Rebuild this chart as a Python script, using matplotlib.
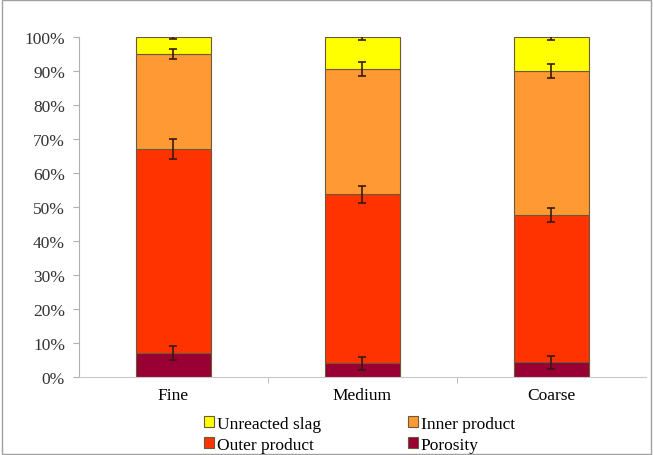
import matplotlib.pyplot as plt
import numpy as np
from matplotlib.patches import Rectangle
from matplotlib.ticker import PercentFormatter

plt.rcParams["font.family"] = ["Liberation Serif", "DejaVu Serif"]

categories = ["Fine", "Medium", "Coarse"]
series = ["Porosity", "Outer product", "Inner product", "Unreacted slag"]
porosity = [7.0, 4.0, 4.3]
outer = [60.0, 49.7, 43.4]
inner = [28.0, 36.8, 42.3]
slag = [5.0, 9.5, 10.0]
err_porosity = [2.0, 2.0, 2.0]
err_outer = [3.0, 2.5, 2.0]
err_inner = [1.5, 2.0, 2.0]
err_slag = [0.5, 1.0, 1.0]

colors = {
    "Porosity": "#990033",
    "Outer product": "#FF3300",
    "Inner product": "#FF9933",
    "Unreacted slag": "#FFFF00",
}

values = [porosity, outer, inner, slag]
errors = [err_porosity, err_outer, err_inner, err_slag]

fig = plt.figure(figsize=(6.53, 4.56), dpi=100)
ax = fig.add_axes([0.121, 0.171, 0.868, 0.746])

x = np.arange(len(categories))
bottom = np.zeros(len(categories))
handles = {}
for name, vals, errs in zip(series, values, errors):
    vals = np.array(vals)
    h = ax.bar(x, vals, width=0.4, bottom=bottom, color=colors[name],
               edgecolor="#6b5a3a", linewidth=0.8, label=name, zorder=2)
    handles[name] = h
    bottom = bottom + vals
    ax.errorbar(x, bottom, yerr=errs, fmt="none", ecolor="#3a1a10",
                elinewidth=1.2, capsize=3, capthick=1.2, zorder=3)

ax.set_xlim(-0.5, len(categories) - 0.5)
ax.set_ylim(0, 100)
ax.set_yticks(np.arange(0, 101, 10))
ax.yaxis.set_major_formatter(PercentFormatter(decimals=0))
ax.set_xticks(x)
ax.set_xticklabels(categories)
ax.set_xticks([0.5, 1.5], minor=True)
ax.tick_params(axis="x", which="major", length=0, pad=7)
ax.tick_params(axis="x", which="minor", length=4, color="#b0b0b0")
ax.tick_params(axis="y", length=4, color="#b0b0b0", labelcolor="#333333", pad=6)
ax.tick_params(labelsize=12.5)
for side in ["top", "right"]:
    ax.spines[side].set_visible(False)
ax.spines["left"].set_color("#b0b0b0")
ax.spines["bottom"].set_color("#c8c8c8")

# legend fills column by column: slag/outer, then inner/porosity
order = ["Unreacted slag", "Outer product", "Inner product", "Porosity"]
fig.legend([handles[n] for n in order], order, loc="lower center",
           bbox_to_anchor=(0.55, -0.03), ncol=2, frameon=False, fontsize=12.5,
           handlelength=0.6, handleheight=0.6, handletextpad=0.15,
           columnspacing=5.0, labelspacing=0.3)

fig.patches.append(Rectangle((0.003, 0.003), 0.994, 0.994, transform=fig.transFigure,
                             fill=False, edgecolor="#a0a0a0", linewidth=1))

fig.savefig("out.png", dpi=100)
